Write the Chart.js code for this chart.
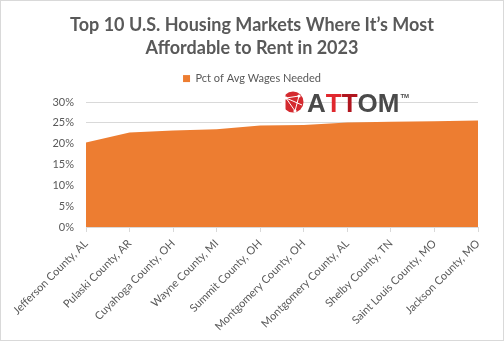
<!DOCTYPE html>
<html>
<head>
<meta charset="utf-8">
<script src="https://cdn.jsdelivr.net/npm/chart.js@4/dist/chart.umd.min.js"></script>
<style>
  html, body { margin: 0; padding: 0; background: #fff; }
  #wrap { width: 504px; height: 341px; position: relative; }
</style>
</head>
<body>
<div id="wrap"><canvas id="c" width="504" height="341"></canvas></div>
<script>
// Counties ranked by share of average wages needed to rent
const counties = [
  'Jefferson County, AL', 'Pulaski County, AR', 'Cuyahoga County, OH', 'Wayne County, MI',
  'Summit County, OH', 'Montgomery County, OH', 'Montgomery County, AL', 'Shelby County, TN',
  'Saint Louis County, MO', 'Jackson County, MO'
];
const pctOfWages = [20.3, 22.7, 23.2, 23.5, 24.4, 24.5, 25.1, 25.3, 25.4, 25.6];
const yTicks = [0, 5, 10, 15, 20, 25, 30];

const seriesName = 'Pct of Avg Wages Needed';
const titleLines = ['Top 10 U.S. Housing Markets Where It\u2019s Most', 'Affordable to Rent in 2023'];

const ORANGE = '#ED7D31';
const GRID = '#D9D9D9';
const TEXT = '#595959';
const FONT = 'Lato, "Open Sans", "Liberation Sans", sans-serif';

// White background with a thin frame around the whole chart
const framePlugin = {
  id: 'frame',
  beforeDraw(chart) {
    const ctx = chart.ctx;
    ctx.save();
    ctx.fillStyle = '#fff';
    ctx.fillRect(0, 0, chart.width, chart.height);
    ctx.strokeStyle = GRID;
    ctx.lineWidth = 1;
    ctx.strokeRect(0.5, 0.5, chart.width - 1, chart.height - 1);
    ctx.restore();
  }
};

// Extra gap between the legend and the plot area
const legendGapPlugin = {
  id: 'legendGap',
  beforeInit(chart) {
    const legend = chart.legend;
    if (!legend) return;
    const fit = legend.fit;
    legend.fit = function () {
      fit.call(this);
      this.height += 8;
    };
  }
};

// ATTOM wordmark in the upper plot area
const logoPlugin = {
  id: 'logo',
  afterDraw(chart) {
    const ctx = chart.ctx;
    const cx = 293, cy = 102, r = 10.5;
    ctx.save();
    // emblem
    ctx.fillStyle = '#D42A2F';
    ctx.beginPath();
    ctx.arc(cx, cy, r, 0, Math.PI * 2);
    ctx.fill();
    ctx.fillStyle = '#fff';
    ctx.fillRect(cx - r - 1, cy - r - 1, 4, r * 2 + 2);
    ctx.strokeStyle = '#fff';
    ctx.lineWidth = 1;
    ctx.beginPath();
    ctx.moveTo(cx - 7, cy - 4); ctx.lineTo(cx + 6, cy - 6);
    ctx.moveTo(cx - 7, cy - 4); ctx.lineTo(cx + 2, cy + 9);
    ctx.moveTo(cx + 6, cy - 6); ctx.lineTo(cx + 2, cy + 9);
    ctx.moveTo(cx - 7, cy - 4); ctx.lineTo(cx + 9, cy + 3);
    ctx.stroke();
    ctx.fillStyle = '#fff';
    [[cx + 6, cy - 6], [cx + 2, cy + 9], [cx - 7, cy - 4]].forEach(p => {
      ctx.beginPath(); ctx.arc(p[0], p[1], 1.6, 0, Math.PI * 2); ctx.fill();
    });
    // letters
    ctx.font = 'bold 26px "Liberation Sans", Arial, sans-serif';
    ctx.textBaseline = 'alphabetic';
    let x = 307;
    const y = 112;
    const parts = [['A', '#4A4A4A'], ['T', '#E0282E'], ['T', '#B0151E'], ['OM', '#4A4A4A']];
    parts.forEach(([t, col]) => {
      ctx.fillStyle = col;
      ctx.fillText(t, x, y);
      x += ctx.measureText(t).width;
    });
    ctx.font = 'bold 6px "Liberation Sans", Arial, sans-serif';
    ctx.fillStyle = '#4A4A4A';
    ctx.fillText('TM', x + 1, 98);
    ctx.restore();
  }
};

new Chart(document.getElementById('c'), {
  type: 'line',
  data: {
    labels: counties,
    datasets: [{
      label: seriesName,
      data: pctOfWages,
      backgroundColor: ORANGE,
      borderColor: ORANGE,
      borderWidth: 0,
      pointRadius: 0,
      fill: 'origin',
      tension: 0
    }]
  },
  options: {
    responsive: false,
    animation: false,
    devicePixelRatio: 1,
    layout: { padding: { left: 0, right: 0, top: 10, bottom: 0 } },
    plugins: {
      title: {
        display: true,
        text: titleLines,
        color: TEXT,
        font: { family: FONT, size: 18, weight: 'bold', lineHeight: 1.28 },
        padding: { top: 4, bottom: 7 }
      },
      legend: {
        display: true,
        labels: {
          color: TEXT,
          font: { family: FONT, size: 11 },
          boxWidth: 7,
          boxHeight: 7,
          padding: 6
        }
      },
      tooltip: { enabled: false }
    },
    scales: {
      x: {
        offset: false,
        grid: {
          display: true,
          drawOnChartArea: false,
          drawTicks: true,
          tickLength: 5,
          color: GRID
        },
        border: { display: true, color: GRID },
        ticks: {
          color: TEXT,
          font: { family: FONT, size: 11 },
          minRotation: 45,
          maxRotation: 45,
          autoSkip: false,
          padding: 5
        },
        afterFit(scale) { scale.height = 114; }
      },
      y: {
        min: 0,
        max: 30,
        grid: { color: GRID, drawTicks: false },
        border: { display: false },
        afterBuildTicks(scale) { scale.ticks = yTicks.map(v => ({ value: v })); },
        ticks: {
          color: TEXT,
          font: { family: FONT, size: 11 },
          padding: 12,
          callback: v => v + '%'
        },
        afterFit(scale) { scale.width = 86; }
      },
      // empty right-hand margin beside the plot
      yRight: {
        position: 'right',
        display: true,
        min: 0,
        max: 30,
        grid: { display: false },
        border: { display: false },
        ticks: { display: false },
        afterFit(scale) { scale.width = 26; }
      }
    }
  },
  plugins: [framePlugin, legendGapPlugin, logoPlugin]
});
</script>
</body>
</html>
